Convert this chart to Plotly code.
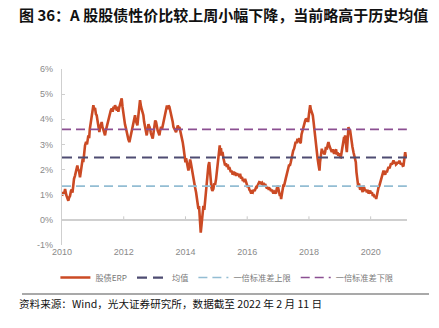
import plotly.graph_objects as go

# ---- data ----
years = [
2010.00,2010.04,2010.07,2010.10,2010.14,2010.17,2010.205,2010.23,2010.26,2010.29,2010.313,2010.34,2010.36,2010.389,2010.42,2010.45,2010.47,2010.497,2010.52,2010.55,2010.583,2010.61,2010.64,2010.670,2010.69,2010.72,2010.746,2010.78,2010.81,2010.854,2010.88,2010.90,2010.929,2010.96,2010.99,
2011.016,2011.04,2011.07,2011.10,2011.124,2011.15,2011.18,2011.210,2011.23,2011.26,2011.286,2011.31,2011.34,2011.37,2011.394,2011.42,2011.45,2011.48,2011.502,2011.53,2011.56,2011.58,2011.610,2011.64,2011.67,2011.69,2011.718,2011.75,2011.78,2011.80,2011.826,2011.85,2011.88,2011.91,2011.934,2011.96,2011.99,
2012.010,2012.04,2012.07,2012.096,2012.12,2012.15,2012.183,2012.21,2012.23,2012.258,2012.29,2012.31,2012.34,2012.366,2012.39,2012.42,2012.442,2012.47,2012.50,2012.528,2012.56,2012.59,2012.61,2012.636,2012.66,2012.69,2012.72,2012.745,2012.77,2012.80,2012.83,2012.853,2012.88,2012.91,2012.939,2012.97,
2013.00,2013.02,2013.047,2013.07,2013.10,2013.13,2013.155,2013.18,2013.21,2013.24,2013.263,2013.29,2013.32,2013.35,2013.371,2013.40,2013.43,2013.45,2013.479,2013.51,2013.54,2013.56,2013.587,2013.61,2013.64,2013.67,2013.695,2013.72,2013.75,2013.78,2013.803,2013.83,2013.86,2013.89,2013.911,2013.94,2013.97,2013.998,
2014.02,2014.05,2014.07,2014.095,2014.12,2014.15,2014.171,2014.20,2014.23,2014.257,2014.28,2014.31,2014.344,2014.37,2014.39,2014.419,2014.44,2014.46,2014.48,2014.495,2014.52,2014.55,2014.581,2014.61,2014.64,2014.668,2014.69,2014.72,2014.743,2014.77,2014.79,2014.819,2014.84,2014.87,2014.905,2014.93,2014.96,2014.992,
2015.02,2015.045,2015.067,2015.09,2015.11,2015.13,2015.15,2015.176,2015.20,2015.23,2015.26,2015.284,2015.31,2015.34,2015.37,2015.40,2015.42,2015.446,2015.47,2015.50,2015.53,2015.56,2015.58,2015.608,2015.64,2015.67,2015.70,2015.72,2015.75,2015.770,2015.80,2015.83,2015.86,2015.89,2015.91,2015.932,2015.96,2015.99,
2016.01,2016.040,2016.07,2016.10,2016.13,2016.15,2016.181,2016.21,2016.24,2016.27,2016.29,2016.310,2016.34,2016.37,2016.39,2016.418,2016.45,2016.48,2016.51,2016.54,2016.56,2016.580,2016.61,2016.64,2016.67,2016.70,2016.72,2016.742,2016.77,2016.80,2016.83,2016.85,2016.88,2016.904,2016.93,2016.96,2016.99,
2017.012,2017.04,2017.06,2017.08,2017.099,2017.12,2017.15,2017.17,2017.196,2017.22,2017.25,2017.28,2017.304,2017.33,2017.36,2017.38,2017.412,2017.44,2017.47,2017.49,2017.520,2017.55,2017.57,2017.60,2017.628,2017.66,2017.69,2017.71,2017.736,2017.76,2017.79,2017.823,2017.85,2017.88,2017.909,2017.93,2017.95,2017.974,
2018.00,2018.02,2018.039,2018.06,2018.08,2018.10,2018.125,2018.15,2018.18,2018.201,2018.22,2018.24,2018.255,2018.28,2018.31,2018.342,2018.36,2018.39,2018.417,2018.44,2018.47,2018.50,2018.525,2018.55,2018.58,2018.61,2018.633,2018.66,2018.69,2018.709,2018.74,2018.77,2018.79,2018.817,2018.85,2018.88,2018.90,2018.925,2018.95,2018.98,
2019.01,2019.033,2019.06,2019.09,2019.119,2019.14,2019.16,2019.173,2019.20,2019.227,2019.25,2019.27,2019.281,2019.30,2019.33,2019.357,2019.38,2019.41,2019.443,2019.47,2019.50,2019.519,2019.54,2019.56,2019.573,2019.60,2019.62,2019.638,2019.66,2019.69,2019.714,2019.74,2019.76,2019.789,2019.82,2019.85,2019.876,2019.90,2019.93,2019.96,2019.984,
2020.01,2020.04,2020.07,2020.092,2020.12,2020.15,2020.178,2020.20,2020.23,2020.254,2020.28,2020.31,2020.330,2020.36,2020.39,2020.417,2020.44,2020.47,2020.50,2020.524,2020.55,2020.58,2020.61,2020.632,2020.66,2020.69,2020.72,2020.740,2020.77,2020.80,2020.82,2020.848,2020.87,2020.90,2020.93,2020.956,2020.98,
2021.01,2021.04,2021.064,2021.08,2021.10,2021.118,2021.14,2021.172]

erp = [
0.96,1.10,1.05,1.23,0.98,0.90,0.76,0.88,0.95,1.15,1.20,1.08,1.35,1.63,1.75,1.90,2.05,2.16,2.00,1.95,1.69,1.90,2.20,2.43,2.30,2.70,2.96,3.10,3.00,3.36,3.25,3.60,3.89,4.10,4.35,
4.56,4.40,4.45,4.20,4.16,3.95,3.70,3.49,3.65,3.80,3.89,3.70,3.60,3.45,3.36,3.55,3.70,3.85,4.03,4.15,4.25,4.35,4.43,4.30,4.50,4.40,4.56,4.45,4.35,4.50,4.30,4.45,4.60,4.70,4.83,4.50,4.20,
4.03,3.80,3.65,3.49,3.30,3.20,3.09,3.25,3.40,3.49,3.70,3.90,4.00,4.16,3.95,3.85,3.76,4.10,4.50,4.76,4.50,4.35,4.25,4.16,3.90,3.70,3.50,3.36,3.55,3.80,3.70,3.63,3.45,3.35,3.23,3.50,
3.75,3.95,3.89,3.65,3.55,3.45,3.36,3.55,3.70,3.60,3.76,3.95,4.15,4.30,4.43,4.55,4.40,4.55,4.50,4.35,4.20,4.05,3.89,3.70,3.60,3.55,3.49,3.60,3.75,3.65,3.69,3.55,3.40,3.20,3.09,2.85,2.55,2.29,
2.45,2.20,2.10,1.96,2.10,2.40,2.29,2.05,1.85,1.63,1.45,1.30,1.09,0.80,0.65,0.43,0.55,0.20,-0.10,-0.51,-0.20,0.20,0.56,0.40,0.85,1.23,1.60,1.95,2.16,2.30,1.90,1.49,1.30,1.15,1.23,1.45,1.40,1.63,
1.90,2.30,2.56,2.80,2.96,2.55,2.85,2.56,2.70,2.45,2.30,2.16,2.25,2.10,2.20,2.00,2.10,2.03,1.90,1.95,1.80,1.92,1.85,1.89,1.75,1.85,1.78,1.83,1.70,1.83,1.65,1.70,1.55,1.60,1.50,1.63,1.45,1.40,
1.30,1.36,1.20,1.15,1.05,1.12,1.09,1.20,1.15,1.25,1.30,1.29,1.40,1.45,1.50,1.49,1.45,1.48,1.40,1.42,1.35,1.43,1.30,1.25,1.30,1.20,1.25,1.23,1.15,1.20,1.10,1.05,1.12,1.09,1.05,1.25,1.35,
1.23,1.10,0.95,1.05,0.83,1.00,1.20,1.36,1.36,1.55,1.65,1.80,1.89,2.05,2.20,2.15,2.29,2.50,2.60,2.75,2.83,3.00,3.10,3.05,3.23,3.10,3.25,3.05,3.09,3.40,3.55,3.76,3.85,3.95,4.03,3.90,4.05,3.89,
4.20,4.40,4.56,4.40,4.30,4.25,4.16,3.90,3.55,3.23,2.95,2.70,2.56,2.45,2.20,1.96,2.30,2.60,2.83,2.65,2.75,2.60,2.69,2.90,2.80,3.00,3.09,2.95,2.85,2.83,2.70,2.80,2.65,2.63,2.75,2.80,2.60,2.69,2.55,2.65,
2.50,2.49,2.70,2.90,3.09,3.30,3.20,3.36,3.00,2.69,3.10,3.50,3.69,3.55,3.60,3.36,3.10,2.90,2.69,2.55,2.40,2.29,1.90,1.60,1.49,1.30,1.45,1.36,1.20,1.30,1.23,1.10,1.35,1.29,1.15,1.20,1.09,1.20,1.05,1.15,1.16,
1.05,1.10,0.95,1.03,0.90,0.95,0.83,1.00,1.20,1.29,1.35,1.50,1.49,1.70,1.85,1.96,1.85,1.80,1.95,1.89,2.00,2.10,2.05,2.16,2.25,2.20,2.35,2.36,2.25,2.30,2.20,2.23,2.30,2.25,2.35,2.29,2.20,
2.25,2.15,2.16,2.40,2.60,2.69,2.50,2.56]

mean_val = 2.48
upper_val = 1.34   # 一倍标准差上限 (as labelled in source)
lower_val = 3.60   # 一倍标准差下限 (as labelled in source)

tick_years = [2010, 2012, 2014, 2016, 2018, 2020]
tick_labels = ["2010", "2012", "2014", "2016", "2018", "2020"]
y_ticks = [-1, 0, 1, 2, 3, 4, 5, 6]
y_labels = ["-1%", "0%", "1%", "2%", "3%", "4%", "5%", "6%"]

title_text = "图 36：A 股股债性价比较上周小幅下降，当前略高于历史均值"
source_text = "资料来源：Wind，光大证券研究所，数据截至 2022 年 2 月 11 日"

x0, x1 = years[0], years[-1]

fig = go.Figure()
fig.add_trace(go.Scatter(x=years, y=erp, mode="lines", name="股债ERP",
                         line=dict(color="#CB4A24", width=2.6)))
fig.add_trace(go.Scatter(x=[x0, x1], y=[mean_val, mean_val], mode="lines", name="均值",
                         line=dict(color="#4E4C72", width=2.2, dash="10px,6px")))
fig.add_trace(go.Scatter(x=[x0, x1], y=[upper_val, upper_val], mode="lines", name="一倍标准差上限",
                         line=dict(color="#93BDD3", width=1.6, dash="9px,5px")))
fig.add_trace(go.Scatter(x=[x0, x1], y=[lower_val, lower_val], mode="lines", name="一倍标准差下限",
                         line=dict(color="#8B4F92", width=1.6, dash="9px,5px")))

# small tick marks on the zero line
shapes = []
for t in tick_years[1:]:
    shapes.append(dict(type="line", xref="x", yref="y", x0=t, x1=t, y0=0, y1=0.14,
                       line=dict(color="#c8c8c8", width=1), layer="below"))
# rule above the source note
shapes.append(dict(type="line", xref="paper", yref="paper", x0=-0.116, x1=1.0638,
                   y0=-49 / 176, y1=-49 / 176, line=dict(color="#8c8c8c", width=1.5)))

fig.update_layout(
    width=439, height=328,
    margin=dict(l=62, r=32, t=69, b=83),
    paper_bgcolor="white", plot_bgcolor="white",
    font=dict(family="Liberation Sans, Noto Sans CJK SC, sans-serif", color="#8a8a8a", size=9),
    showlegend=True,
    legend=dict(orientation="h", x=0.478, xanchor="center",
                y=-0.185, yanchor="middle",
                font=dict(size=8.2, color="#7a7a7a", family="Noto Sans CJK SC, sans-serif"),
                itemwidth=30, tracegroupgap=0, bgcolor="rgba(0,0,0,0)"),
    xaxis=dict(range=[x0, x1 + 0.005], tickvals=tick_years, ticktext=tick_labels,
               showgrid=False, zeroline=False, showline=False, ticks="",
               tickfont=dict(size=9, color="#8a8a8a")),
    yaxis=dict(range=[-1, 6], tickvals=y_ticks, ticktext=y_labels,
               showgrid=False, zeroline=True, zerolinecolor="#cfcfcf", zerolinewidth=1.5,
               showline=True, linecolor="#cfcfcf", linewidth=1.2,
               ticks="inside", ticklen=3, tickcolor="#cfcfcf",
               ticklabelstandoff=6, tickfont=dict(size=9, color="#8a8a8a")),
    annotations=[
        dict(text="<b>" + title_text + "</b>", xref="paper", yref="paper",
             x=-0.129, y=1.0, xanchor="left", yanchor="middle", showarrow=False,
             yshift=55, font=dict(size=15, color="#111111", family="Noto Sans CJK SC, sans-serif")),
        dict(text=source_text, xref="paper", yref="paper",
             x=-0.129, y=0, xanchor="left", yanchor="middle", showarrow=False,
             yshift=-58, font=dict(size=10.6, color="#111111", family="Noto Sans CJK SC, sans-serif")),
    ],
    shapes=shapes,
)

fig.write_html("out.html")
